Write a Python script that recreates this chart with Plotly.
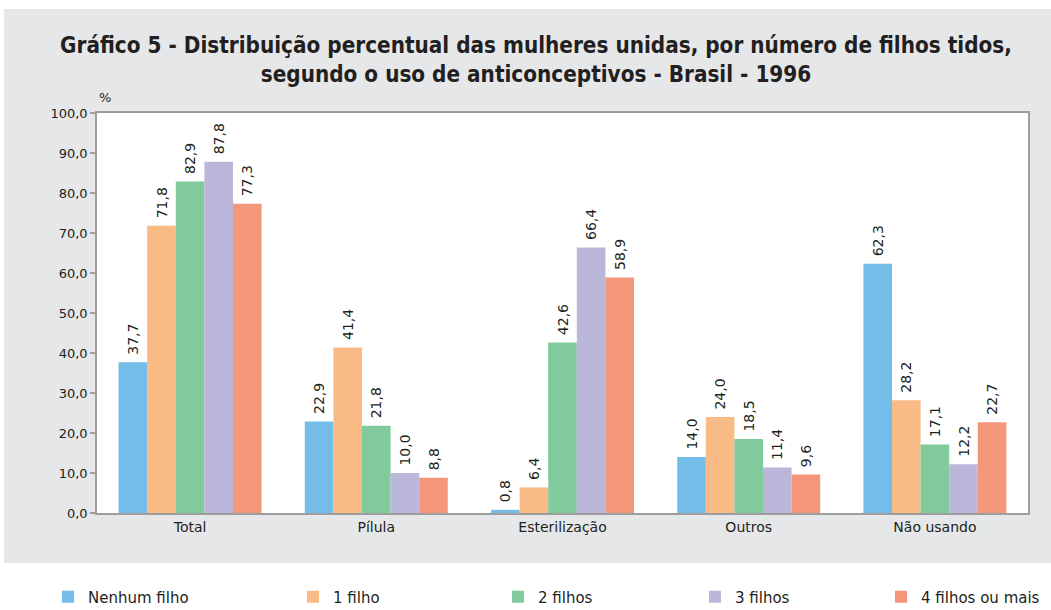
import plotly.graph_objects as go

categories = ["Total", "Pílula", "Esterilização", "Outros", "Não usando"]
series_names = ["Nenhum filho", "1 filho", "2 filhos", "3 filhos", "4 filhos ou mais"]
nenhum = [37.7, 22.9, 0.8, 14.0, 62.3]
um = [71.8, 41.4, 6.4, 24.0, 28.2]
dois = [82.9, 21.8, 42.6, 18.5, 17.1]
tres = [87.8, 10.0, 66.4, 11.4, 12.2]
quatro = [77.3, 8.8, 58.9, 9.6, 22.7]
series_values = [nenhum, um, dois, tres, quatro]
colors = ["#74bde8", "#f9bb85", "#80ca9b", "#bab7da", "#f4967a"]
y_ticks = [0, 10, 20, 30, 40, 50, 60, 70, 80, 90, 100]

W, H = 1051, 610
L, R, T, B = 97, 23, 113, 97
pw, ph = W - L - R, H - T - B

def px2x(p):
    return (p - L) / pw

def px2y(p):
    return (H - B - p) / ph

legend_text_x = [88, 333, 538, 735, 921]
legend_names = ["legend", "legend2", "legend3", "legend4", "legend5"]

fig = go.Figure()
for i, (name, vals, col) in enumerate(zip(series_names, series_values, colors)):
    fig.add_trace(go.Bar(
        x=categories, y=vals, name=name,
        marker=dict(color=col, line=dict(width=0)),
        text=vals,
        texttemplate="\u00a0%{y:.1f}",
        textposition="outside",
        textangle=-90,
        constraintext="none",
        textfont=dict(family="DejaVu Sans", size=14, color="#231f20"),
        cliponaxis=False,
        legend=legend_names[i],
        hoverinfo="skip",
    ))

layout_legends = {}
for i, ln in enumerate(legend_names):
    layout_legends[ln] = dict(
        x=px2x(legend_text_x[i] - 40), xanchor="left",
        y=px2y(597), yanchor="middle",
        orientation="h",
        bgcolor="rgba(0,0,0,0)",
        font=dict(family="DejaVu Sans", size=15, color="#231f20"),
    )

fig.update_layout(
    width=W, height=H,
    margin=dict(l=L, r=R, t=T, b=B, autoexpand=False),
    paper_bgcolor="white",
    plot_bgcolor="white",
    separators=",.",
    barmode="group",
    bargap=0.232,
    bargroupgap=0,
    showlegend=True,
    title=dict(
        text="Gráfico 5 - Distribuição percentual das mulheres unidas, por número de filhos tidos,<br>segundo o uso de anticonceptivos - Brasil - 1996",
        x=536 / W, xanchor="center", xref="container",
        y=1 - 53 / H, yanchor="top", yref="container",
        font=dict(family="DejaVu Sans Condensed", size=22.3, color="#231f20", weight="bold"),
    ),
    xaxis=dict(
        showline=True, linecolor="#9d9d9d", linewidth=1.5, mirror=True,
        ticks="", showgrid=False,
        tickfont=dict(family="DejaVu Sans", size=14, color="#231f20"),
    ),
    yaxis=dict(
        range=[0, 100], tickvals=y_ticks, tickformat=".1f",
        showline=True, linecolor="#9d9d9d", linewidth=1.5, mirror=True,
        ticks="outside", ticklen=5, tickcolor="#9d9d9d", tickwidth=1.5,
        showgrid=False, zeroline=False,
        tickfont=dict(family="DejaVu Sans", size=13, color="#231f20"),
    ),
    shapes=[
        dict(type="rect", xref="paper", yref="paper", layer="below",
             x0=px2x(4), x1=px2x(W + 5), y0=px2y(563), y1=px2y(9),
             fillcolor="#e6e7e9", line=dict(width=0)),
        dict(type="rect", xref="paper", yref="paper", layer="below",
             x0=0, x1=1, y0=0, y1=1,
             fillcolor="white", line=dict(width=0)),
    ],
    annotations=[
        dict(text="%", xref="paper", yref="paper", x=0, y=px2y(98),
             xanchor="left", yanchor="middle", showarrow=False,
             font=dict(family="DejaVu Sans", size=13, color="#231f20")),
    ],
    **layout_legends,
)

fig.write_html(
    "out.html",
    config={"displayModeBar": False},
    post_script="document.body.style.margin='0';document.body.style.overflow='hidden';",
)
